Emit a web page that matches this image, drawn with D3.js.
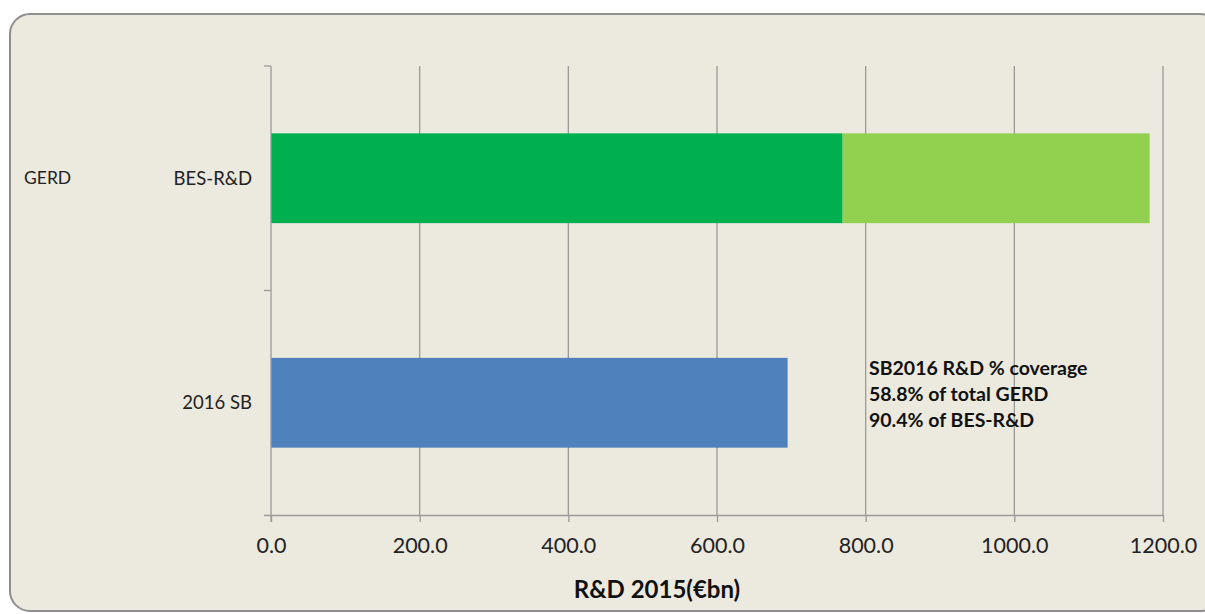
<!DOCTYPE html>
<html><head><meta charset="utf-8">
<script src="https://cdn.jsdelivr.net/npm/d3@7/dist/d3.min.js"></script>
<style>html,body{margin:0;padding:0;background:#fff;}svg{display:block;}</style>
</head><body>
<svg id="c" width="1205" height="614"></svg>
<script>
const categories = ["BES-R&D", "2016 SB"];
const groupLabels = ["GERD", ""];
const besValues = [769, 0];
const restGerdValues = [413, 0];
const sbValues = [0, 695];
const xTicks = [0, 200, 400, 600, 800, 1000, 1200];
const noteLines = ["SB2016 R&D % coverage", "58.8% of total GERD", "90.4% of BES-R&D"];
const xTitle = "R&D 2015(€bn)";

(function () {
const svg = d3.select("#c");
const font = "Lato, 'Open Sans', sans-serif";

svg.append("rect").attr("x", 10).attr("y", 14).attr("width", 1210).attr("height", 597)
  .attr("rx", 20).attr("ry", 20).attr("fill", "#ECE9DF").attr("stroke", "#8E8E8E").attr("stroke-width", 2);

const pLeft = 271, pRight = 1163, pTop = 66, pBottom = 515;
const x = d3.scaleLinear().domain([0, 1200]).range([pLeft, pRight]);
const y = d3.scaleBand().domain(categories).range([pTop, pBottom]).paddingInner(0.6).paddingOuter(0.3);

const grid = "#9A9A9A";
svg.append("g").selectAll("line").data(xTicks.slice(1)).join("line")
  .attr("x1", d => x(d)).attr("x2", d => x(d)).attr("y1", pTop).attr("y2", pBottom)
  .attr("stroke", grid).attr("stroke-width", 1.3);

const stacks = [
  {vals: besValues, base: categories.map(() => 0), color: "#00B050"},
  {vals: restGerdValues, base: besValues, color: "#92D050"},
  {vals: sbValues, base: categories.map(() => 0), color: "#4F81BD"}
];
stacks.forEach(s => {
  svg.append("g").selectAll("rect").data(categories).join("rect")
    .attr("x", (c, i) => x(s.base[i]))
    .attr("width", (c, i) => x(s.base[i] + s.vals[i]) - x(s.base[i]))
    .attr("y", c => y(c)).attr("height", y.bandwidth())
    .attr("fill", s.color);
});

const xAxis = d3.axisBottom(x).tickValues(xTicks).tickFormat(d3.format(".1f")).tickSize(7).tickSizeOuter(0);
const gx = svg.append("g").attr("transform", `translate(0,${pBottom})`).call(xAxis);
gx.select(".domain").attr("stroke", grid).attr("stroke-width", 1.3).attr("d", `M${pLeft-7},0.5H${pRight}`);
gx.selectAll(".tick line").attr("stroke", grid).attr("stroke-width", 1.3);
gx.selectAll(".tick text").attr("font-family", font).attr("font-size", 21.5).attr("fill", "#222").attr("dy", "1.3em");

const yTickPos = [pTop, (pTop + pBottom) / 2];
svg.append("line").attr("x1", pLeft).attr("x2", pLeft).attr("y1", pTop).attr("y2", pBottom + 7)
  .attr("stroke", grid).attr("stroke-width", 1.3);
svg.append("g").selectAll("line").data(yTickPos).join("line")
  .attr("x1", pLeft - 7).attr("x2", pLeft).attr("y1", d => d).attr("y2", d => d)
  .attr("stroke", grid).attr("stroke-width", 1.3);

svg.append("g").selectAll("text").data(categories).join("text")
  .attr("x", 252).attr("y", c => y(c) + y.bandwidth() / 2).attr("dy", "0.35em")
  .attr("text-anchor", "end").attr("font-family", font).attr("font-size", 18.5).attr("fill", "#222")
  .text(c => c);
svg.append("g").selectAll("text").data(categories).join("text")
  .attr("x", 24).attr("y", c => y(c) + y.bandwidth() / 2).attr("dy", "0.35em")
  .attr("font-family", font).attr("font-size", 17.5).attr("fill", "#222")
  .text((c, i) => groupLabels[i]);

svg.append("g").selectAll("text").data(noteLines).join("text")
  .attr("x", 869).attr("y", (d, i) => 375 + i * 26)
  .attr("font-family", font).attr("font-size", 19.5).attr("font-weight", "bold").attr("fill", "#111")
  .text(d => d);

svg.append("text").attr("x", 657).attr("y", 598).attr("text-anchor", "middle")
  .attr("font-family", font).attr("font-size", 24).attr("font-weight", "bold").attr("fill", "#111")
  .text(xTitle);
})();
</script>
</body></html>
